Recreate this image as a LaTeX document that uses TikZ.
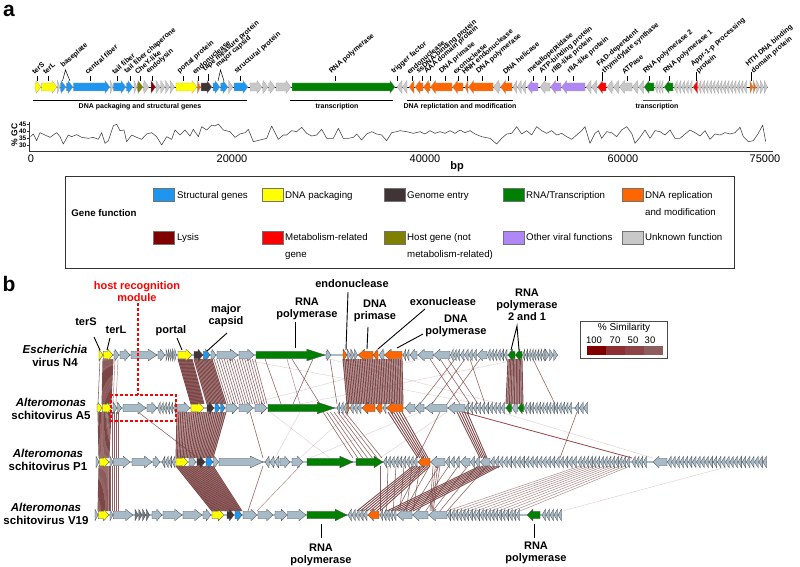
\documentclass[tikz,border=0pt]{standalone}
\usepackage{fontspec}
\setmainfont{Liberation Sans}
\definecolor{cstr}{RGB}{30,150,240}
\definecolor{cpack}{RGB}{255,255,0}
\definecolor{centry}{RGB}{65,52,52}
\definecolor{crna}{RGB}{0,128,0}
\definecolor{crep}{RGB}{255,102,0}
\definecolor{clys}{RGB}{128,0,0}
\definecolor{cmet}{RGB}{255,0,0}
\definecolor{chost}{RGB}{128,128,0}
\definecolor{cvir}{RGB}{176,136,245}
\definecolor{cunk}{RGB}{200,200,200}
\definecolor{cbg}{RGB}{166,186,200}
\definecolor{cdg}{RGB}{110,120,130}
\definecolor{clink}{RGB}{122,66,66}
\definecolor{sim1}{RGB}{128,0,0}
\definecolor{sim2}{RGB}{140,48,52}
\definecolor{sim3}{RGB}{140,68,70}
\definecolor{sim4}{RGB}{140,94,94}
\newcommand\geneF[3]{%
  \pgfmathsetmacro\gHL{min(#2-#1,\gHC+\gHK*(#2-#1))}%
  \filldraw[genestyle,fill=#3] (#1,{\gRY-\gBH}) -- ({#2-\gHL},{\gRY-\gBH}) -- ({#2-\gHL},{\gRY-\gHH}) -- (#2,\gRY) -- ({#2-\gHL},{\gRY+\gHH}) -- ({#2-\gHL},{\gRY+\gBH}) -- (#1,{\gRY+\gBH}) -- cycle;}
\newcommand\geneR[3]{%
  \pgfmathsetmacro\gHL{min(#2-#1,\gHC+\gHK*(#2-#1))}%
  \filldraw[genestyle,fill=#3] (#2,{\gRY-\gBH}) -- ({#1+\gHL},{\gRY-\gBH}) -- ({#1+\gHL},{\gRY-\gHH}) -- (#1,\gRY) -- ({#1+\gHL},{\gRY+\gHH}) -- ({#1+\gHL},{\gRY+\gBH}) -- (#2,{\gRY+\gBH}) -- cycle;}
\newcommand\runF[4]{%
  \pgfmathsetmacro\gRW{(#2-#1)/#3}%
  \foreach \k in {1,...,#3}{%
    \pgfmathsetmacro\gRA{#1+(\k-1)*\gRW}%
    \pgfmathsetmacro\gRB{#1+\k*\gRW-0.5}%
    \geneF{\gRA}{\gRB}{#4}}}
\newcommand\runR[4]{%
  \pgfmathsetmacro\gRW{(#2-#1)/#3}%
  \foreach \k in {1,...,#3}{%
    \pgfmathsetmacro\gRA{#1+(\k-1)*\gRW}%
    \pgfmathsetmacro\gRB{#1+\k*\gRW-0.5}%
    \geneR{\gRA}{\gRB}{#4}}}
\newcommand\bund[8]{%
  \foreach \k in {0,...,#7}{\draw[#8] ({#1+(#2-#1)*\k/#7},#3) -- ({#4+(#5-#4)*\k/#7},#6);}}
\newcommand\bundF[7]{%
  \fill[clink,opacity=0.45] (#1,#3)--(#2,#3)--(#5,#6)--(#4,#6)--cycle;
  \bund{#1}{#2}{#3}{#4}{#5}{#6}{#7}{lkd}}
\begin{document}
\begin{tikzpicture}[x=1pt,y=-1pt,
  genestyle/.style={draw=black!35,line width=0.25pt},
  atick/.style={line width=0.5pt,black},
  alab/.style={font=\fontsize{7.1}{8}\selectfont\bfseries,rotate=41,anchor=south west,inner sep=0.3pt},
  brk/.style={font=\fontsize{7}{8}\selectfont\bfseries,inner sep=0pt},
  leg/.style={font=\fontsize{9.7}{11}\selectfont,anchor=base west,inner sep=0pt},
  sw/.style={draw=black!55,line width=0.4pt},
  blab/.style={font=\fontsize{11}{12}\selectfont\bfseries,align=center,inner sep=0pt},
  rlab/.style={font=\fontsize{11.5}{13}\selectfont\bfseries,align=center,inner sep=0pt},
  lline/.style={line width=0.9pt,black},
  rowline/.style={draw=cbg,line width=1.6pt},
  lk/.style={draw=clink,line width=0.55pt,opacity=0.85},
  lkd/.style={draw=clink,line width=0.9pt,opacity=0.95},
  lkf/.style={draw=clink,line width=0.4pt,opacity=0.25},
  lkt/.style={draw=clink,line width=0.45pt,opacity=0.65},
  lkr/.style={draw=sim2,line width=0.8pt,opacity=0.9},
  hostred/.style={draw=red,line width=1.2pt,dash pattern=on 3pt off 2pt}]
\fill[white] (0,0) rectangle (800,567);
\useasboundingbox (0,0) rectangle (800,567);

% ---------------- panel a ----------------
\node[font=\fontsize{21}{21}\selectfont\bfseries,inner sep=0pt] (pa) at (9,11) {a};

\draw[line width=0.6pt] (35,87)--(768,87);
\def\gRY{87}\def\gBH{4}\def\gHH{6.5}\def\gHC{5}\def\gHK{0}
\geneF{35}{41}{cpack}
\geneF{41.3}{57}{cpack}
\geneF{57.3}{60}{cunk}
\geneF{60.3}{66}{cstr}
\geneF{66.3}{73}{cstr}
\geneF{73.3}{110}{cstr}
\geneF{110.3}{113}{cunk}
\geneF{113.3}{126}{cstr}
\geneF{126.3}{133}{cstr}
\geneF{134}{137}{cunk}
\geneF{137.3}{143}{chost}
\geneF{143.3}{149}{cunk}
\geneF{151}{155.5}{clys}
\runF{156}{175}{4}{cunk}
\geneF{176}{197}{cpack}
\geneF{197.3}{200.5}{crep}
\geneF{201}{212}{centry}
\geneF{213}{220}{cstr}
\geneF{220.5}{228}{cstr}
\geneF{228.5}{233}{cunk}
\geneF{234}{248}{cstr}
\geneF{250}{262}{cunk}
\geneF{262.5}{268}{cunk}
\geneF{268.5}{275}{cunk}
\geneF{276}{291}{cunk}
\geneF{292}{395}{crna}
\geneR{397}{402}{cunk}
\geneR{402.5}{407}{cunk}
\geneR{409}{414}{crep}
\geneR{415}{423}{crep}
\geneR{423.5}{430}{crep}
\geneR{430.5}{452}{crep}
\geneR{452.5}{463}{crep}
\geneR{465}{468}{crep}
\geneR{468.5}{493}{crep}
\geneR{493.5}{500}{cunk}
\geneR{500.5}{512}{crep}
\runR{513}{526}{3}{cunk}
\geneR{527}{538}{cvir}
\geneR{540}{550}{cunk}
\geneR{550.5}{561}{cvir}
\geneR{561.5}{585}{cvir}
\geneR{586}{591}{cunk}
\geneR{591.5}{597}{cunk}
\geneR{597.5}{606}{cmet}
\geneR{607}{613}{cunk}
\geneR{613.5}{619}{cunk}
\geneR{619.5}{632}{cunk}
\geneR{632.5}{638}{cunk}
\geneR{638.5}{643.5}{cunk}
\geneR{644}{654}{crna}
\runR{655}{663.5}{3}{cunk}
\geneR{664}{673}{crna}
\runR{674}{692.5}{5}{cunk}
\geneR{693}{697.5}{cmet}
\runR{698}{747}{14}{cunk}
\geneF{750}{753}{crep}
\geneF{753.3}{756}{crep}
\runF{756.5}{768}{3}{cunk}

% rotated labels
\foreach \x/\t in {37/terS, 48/terL, 90/central fiber, 117/tail fiber, 130/tail fiber chaperone, 140/CheY-like, 152/endolysin, 183/portal protein, 240/structural protein, 335/RNA polymerase, 397/trigger factor, 412/endonuclease, 422/ssDNA-binding protein, 430/AAA domain protein, 445/DNA primase, 458/exonuclease, 467/HNH endonuclease, 482/DNA polymerase, 508/DNA helicase, 533/metallopeptidase, 545/ATP-binding protein, 557/rIIB-like protein, 573/rIIA-like protein, 627/ATPase, 649/RNA polymerase 2, 669/RNA polymerase 1}
  {\draw[atick] (\x,81)--(\x,76); \node[alab] (la-\x) at (\x-2.5,75.5) {\t};}
\draw[atick] (198,81)--(198,76);
\node[alab] (la-endo1) at (195,75.5) {endonuclease};
\draw[atick] (208,81)--(208,74);
\node[alab] (la-tape) at (206,73) {tape measure protein};
\draw[atick] (62.5,81)--(65.5,70)--(70,81);
\node[alab] (la-base) at (64,69.5) {baseplate};
\draw[atick] (218,81)--(220.5,70)--(224,81);
\node[alab] (la-cap) at (219,69.5) {major capsid};
\draw[atick] (602,81)--(602,72);
\node[alab] (la-fad1) at (600,68.5) {FAD-dependent};
\node[alab] (la-fad2) at (605.5,75) {thymidylate synthase};
\draw[atick] (696,81)--(696,72);
\node[alab] (la-app1) at (694,68.5) {Appr-1-p processing};
\node[alab] (la-app2) at (699.5,75) {protein};
\draw[atick] (751,81)--(751,72);
\node[alab] (la-hth1) at (749,68.5) {HTH DNA binding};
\node[alab] (la-hth2) at (754.5,75) {domain protein};

% brackets
\draw[line width=0.6pt] (33,100.5)--(247,100.5);
\node[brk] (bk1) at (140,107) {DNA packaging and structural genes};
\draw[line width=0.6pt] (290,100.5)--(393,100.5);
\node[brk] (bk2) at (337,107) {transcription};
\draw[line width=0.6pt] (407,100.5)--(513,100.5);
\node[brk] (bk3) at (460,107) {DNA replictation and modification};
\draw[line width=0.6pt,black!70] (643,100.5)--(672,100.5);
\node[brk] (bk4) at (657,107) {transcription};

% GC plot
\draw[line width=0.6pt,black!80] (29,122)--(29,151)--(773,151);
\foreach \v/\yy in {45/124.5,40/131.5,35/138.5,30/145.5}
  {\draw[line width=0.5pt,black!80] (27,\yy)--(29,\yy);
   \node[font=\fontsize{6.5}{7}\selectfont\bfseries,anchor=east,inner sep=0.5pt] (gy\v) at (27,\yy) {\v};}
\node[font=\fontsize{8.5}{9}\selectfont\bfseries,rotate=90,inner sep=0pt] (gcl) at (14.5,135) {\% GC};
\foreach \v/\xx in {0/31,20000/232,40000/425,60000/623,75000/765}
  {\node[font=\fontsize{11}{12}\selectfont,inner sep=0pt] (gx\v) at (\xx,158.5) {\v};}
\node[font=\fontsize{11}{12}\selectfont\bfseries,inner sep=0pt] (bpl) at (457,166.5) {bp};
\begin{scope}[shift={(0,110)},x=0.33333pt,y=-0.33333pt]
\draw[black!75,line width=0.55pt,line join=round] (92,80)--(100,72)--(110,92)--(120,68)--(135,75)--(150,82)--(170,68)--(180,80)--(190,102)--(205,75)--(215,80)--(230,74)--(245,82)--(265,85)--(280,82)--(295,88)--(305,68)--(315,100)--(325,92)--(340,47)--(350,43)--(360,62)--(372,60)--(380,95)--(395,75)--(410,82)--(425,88)--(440,72)--(455,68)--(470,80)--(485,105)--(500,80)--(515,88)--(525,60)--(540,75)--(555,60)--(570,78)--(580,58)--(595,80)--(605,50)--(620,60)--(635,45)--(645,48)--(655,42)--(670,60)--(690,65)--(705,82)--(720,72)--(735,68)--(745,58)--(760,95)--(780,90)--(800,85)--(815,48)--(835,88)--(850,75)--(860,75)--(875,62)--(890,65)--(905,52)--(920,70)--(935,78)--(950,75)--(965,58)--(980,85)--(1000,85)--(1015,55)--(1030,85)--(1045,85)--(1060,82)--(1070,72)--(1085,90)--(1100,72)--(1115,65)--(1130,72)--(1145,75)--(1160,92)--(1175,68)--(1190,65)--(1200,62);
\end{scope}
\begin{scope}[shift={(400,110)},x=0.33333pt,y=-0.33333pt]
\draw[black!75,line width=0.55pt,line join=round] (0,62)--(20,65)--(40,70)--(60,65)--(75,72)--(90,62)--(105,70)--(120,65)--(135,70)--(150,62)--(165,70)--(180,60)--(195,68)--(210,62)--(225,72)--(245,80)--(270,85)--(290,102)--(305,85)--(320,72)--(335,70)--(350,50)--(365,72)--(380,62)--(395,75)--(410,50)--(425,62)--(440,70)--(455,62)--(470,75)--(485,70)--(500,80)--(515,88)--(530,75)--(545,62)--(555,50)--(570,100)--(585,70)--(595,62)--(605,85)--(620,65)--(635,68)--(650,80)--(665,60)--(680,50)--(695,70)--(705,100)--(720,82)--(735,60)--(750,85)--(765,62)--(780,65)--(795,75)--(810,60)--(825,85)--(840,85)--(855,72)--(870,60)--(885,68)--(900,78)--(915,62)--(930,88)--(945,72)--(960,75)--(975,68)--(990,72)--(1005,68)--(1020,52)--(1030,80)--(1045,95)--(1060,92)--(1075,70)--(1088,45)--(1097,95);
\end{scope}

% legend
\draw[black!80,line width=0.8pt] (65,176) rectangle (734,268);
\node[font=\fontsize{9.7}{11}\selectfont\bfseries,inner sep=0pt] (gf) at (104,213) {Gene function};
\foreach \c/\x in {cstr/153,cpack/262,centry/384,crna/503,crep/622}
  {\filldraw[sw,fill=\c] (\x,188.5) rectangle ++(21,12.5);}
\foreach \c/\x in {clys/153,cmet/262,chost/384,cvir/503,cunk/622}
  {\filldraw[sw,fill=\c] (\x,231.5) rectangle ++(21,12.5);}
\node[leg] (l1) at (177,198.5) {Structural genes};
\node[leg] (l2) at (285,198.5) {DNA packaging};
\node[leg] (l3) at (407,198.5) {Genome entry};
\node[leg] (l4) at (526,198.5) {RNA/Transcription};
\node[leg] (l5a) at (645,198.5) {DNA replication};
\node[leg] (l5b) at (645,215.5) {and modification};
\node[leg] (l6) at (177,240.5) {Lysis};
\node[leg] (l7a) at (285,240.5) {Metabolism-related};
\node[leg] (l7b) at (285,257.5) {gene};
\node[leg] (l8a) at (407,240.5) {Host gene (not};
\node[leg] (l8b) at (407,257.5) {metabolism-related)};
\node[leg] (l9) at (526,240.5) {Other viral functions};
\node[leg] (l10) at (645,240.5) {Unknown function};

% ---------------- panel b ----------------
\node[font=\fontsize{21}{21}\selectfont\bfseries,inner sep=0pt] (pb) at (9,284) {b};

% links N4 -> A5
\def\ta{359}\def\tb{404}
\draw[lk] (100,\ta)--(98,\tb);
\bundF{103}{113}{\ta}{102}{111}{\tb}{10}
\draw[lkt] (115,\ta)--(113,\tb); \draw[lkt] (118,\ta)--(116,\tb);
\bundF{178}{192}{\ta}{191}{204}{\tb}{14}
\bundF{194}{212}{\ta}{207}{226}{\tb}{14}
\bund{214}{255}{\ta}{228}{267}{\tb}{16}{lk}
\draw[lk] (265,\ta)--(281,\tb); \draw[lk] (292,\ta)--(320,\tb); \draw[lk] (313,\ta)--(293,\tb);
\draw[lkt] (287,\ta)--(300,\tb); \draw[lk] (330,\ta)--(337,\tb);
\bundF{343}{402}{\ta}{347}{403}{\tb}{34}
\draw[lk] (430,\ta)--(460,\tb); \draw[lk] (440,\ta)--(470,\tb); \draw[lk] (448,\ta)--(478,\tb);
\draw[lk] (455,\ta)--(420,\tb); \draw[lk] (465,\ta)--(432,\tb); \draw[lk] (470,\ta)--(485,\tb);
\draw[lk] (480,\ta)--(447,\tb);
\bundF{508}{522}{\ta}{506}{523}{\tb}{10}
\draw[lk] (533,\ta)--(555,\tb);
\draw[lkf] (240,\ta)--(480,\tb); \draw[lkf] (330,\ta)--(500,\tb); \draw[lkf] (420,\ta)--(250,\tb); \draw[lkf] (520,\ta)--(300,\tb);

% links A5 -> P1
\def\ta{412}\def\tb{458}
\bundF{98}{111}{\ta}{99}{109}{\tb}{10}
\bund{112}{118}{\ta}{112}{118}{\tb}{3}{lk}
\bundF{177}{226}{\ta}{176}{213}{\tb}{26}
\draw[lk] (138,\ta)--(198,\tb);
\draw[lk] (250,\ta)--(263,\tb); \draw[lkf] (300,\ta)--(275,\tb);
\bund{323}{345}{\ta}{353}{382}{\tb}{6}{lk}
\bund{388}{402}{\ta}{418}{428}{\tb}{5}{lkd}
\draw[lk] (440,\ta)--(417,\tb);
\bund{457}{467}{\ta}{480}{487}{\tb}{4}{lkd}
\draw[lkr] (463,\ta)--(632,\tb);
\draw[lkf] (500,\ta)--(653,\tb);
\draw[lk] (577,\ta)--(560,\tb);
\draw[lkf] (447,\ta)--(380,\tb); \draw[lkf] (420,\ta)--(310,\tb); \draw[lkf] (270,\ta)--(330,\tb); \draw[lkf] (350,\ta)--(300,\tb);

% links P1 -> V19
\def\ta{466}\def\tb{511}
\bundF{99}{109}{\ta}{98}{109}{\tb}{10}
\bund{110}{118}{\ta}{110}{118}{\tb}{4}{lk}
\bundF{176}{213}{\ta}{212}{242}{\tb}{24}
\draw[lk] (263,\ta)--(248,\tb); \draw[lkt] (300,\ta)--(257,\tb);
\bund{413}{430}{\ta}{357}{380}{\tb}{7}{lkd}
\bund{380}{420}{\ta}{380}{413}{\tb}{5}{lk}
\bund{420}{487}{\ta}{397}{447}{\tb}{7}{lk}
\bund{480}{500}{\ta}{387}{413}{\tb}{7}{lkd}
\bund{433}{440}{\ta}{430}{433}{\tb}{3}{lk}
\bund{580}{630}{\ta}{447}{520}{\tb}{10}{lkt}
\draw[lkf] (730,\ta)--(562,\tb);

% tracks
\tikzset{genestyle/.style={draw=black!70,line width=0.3pt}}
\def\gBH{3.7}\def\gHH{5.8}\def\gHC{3}\def\gHK{0.22}

% N4
\def\gRY{355}
\draw[rowline] (99,355)--(558,355);
\geneF{99}{103}{cpack}
\geneF{103.3}{113}{cpack}
\geneF{114}{119}{cbg}
\geneF{120}{130}{cbg}
\geneF{131}{157}{cbg}
\geneF{158}{165}{cbg}
\runF{166}{177}{5}{cbg}
\geneF{178}{192}{cpack}
\geneF{194}{203}{centry}
\geneF{203.3}{210}{cstr}
\geneF{211}{216}{cbg}
\geneF{217}{238}{cbg}
\geneF{239}{254}{cbg}
\geneF{256}{325}{crna}
\geneF{326}{331}{cbg}
\geneF{343}{347}{crep}
\runF{347.3}{358}{3}{cbg}
\geneR{358.3}{373}{crep}
\geneR{373.3}{378}{crep}
\geneR{379}{384}{cbg}
\geneR{384.3}{402}{crep}
\runR{403}{409.5}{2}{cbg}
\geneR{410}{417}{cbg}
\geneR{418}{433}{cbg}
\geneR{433.3}{450}{cbg}
\runR{450.5}{460}{3}{cbg}
\runR{460.3}{477}{4}{cbg}
\geneR{477.3}{487}{cbg}
\runR{487.3}{507.5}{6}{cbg}
\geneR{508}{515}{crna}
\geneR{515.5}{522}{crna}
\runR{522.5}{545}{8}{cbg}
\runF{545.3}{558}{3}{cbg}

% A5
\def\gRY{408}
\draw[rowline] (97,408)--(588,408);
\geneF{97}{102}{cpack}
\geneF{102.3}{112}{cpack}
\runF{113}{122}{2}{cbg}
\geneF{123}{146}{cbg}
\geneF{147}{157}{cbg}
\runR{157.5}{176.5}{6}{cbg}
\geneF{177}{190}{cbg}
\geneF{191}{204}{cpack}
\geneF{207}{214}{centry}
\geneF{215}{220}{cstr}
\geneF{220.5}{225}{cstr}
\geneF{226}{238}{cbg}
\geneF{239}{253}{cbg}
\geneF{255}{267}{cbg}
\geneF{268}{335}{crna}
\runR{337}{347}{3}{cbg}
\geneF{347.3}{349.5}{crep}
\runR{350}{361.5}{3}{cbg}
\geneR{362}{375}{crep}
\geneR{376}{382}{crep}
\geneR{383}{386}{cbg}
\geneR{386.3}{403}{crep}
\geneR{405}{415}{cbg}
\geneR{415.3}{424}{cbg}
\geneR{425}{447}{cbg}
\geneR{448}{465}{cbg}
\runR{465.3}{505}{10}{cbg}
\geneR{506}{511.5}{crna}
\geneR{512}{517.5}{cbg}
\geneR{518}{523.5}{crna}
\runR{524}{572}{14}{cbg}
\runR{575}{588}{3}{cbg}

% P1
\def\gRY{462}
\draw[rowline] (96,462)--(767,462);
\geneF{96}{99}{cbg}
\geneF{99.3}{109}{cpack}
\geneF{110}{113}{cbg}
\geneF{113.3}{130}{cbg}
\geneF{132}{152}{cbg}
\geneF{153}{160}{cbg}
\runR{162}{175.5}{4}{cbg}
\geneF{176}{188}{cpack}
\geneF{189}{196}{cbg}
\geneF{197}{205}{centry}
\geneF{206}{213}{cstr}
\geneF{213.5}{218.5}{cbg}
\geneF{219}{263}{cbg}
\runR{265}{279.5}{3}{cbg}
\geneF{280}{290}{cbg}
\geneF{292}{303}{cbg}
\geneF{307}{353}{crna}
\geneF{356}{383}{crna}
\runR{383.5}{417.5}{9}{cbg}
\geneR{418}{430}{crep}
\geneR{430.5}{445}{cbg}
\runR{445.5}{460}{3}{cbg}
\geneR{460.5}{470}{cbg}
\runR{470.5}{480}{2}{cbg}
\geneR{480.5}{490}{cbg}
\runR{490.5}{577}{20}{cbg}
\runR{578}{630}{14}{cbg}
\runR{632}{647}{4}{cbg}
\geneR{653}{667}{cbg}
\runR{667.5}{767}{24}{cbg}

% V19
\def\gRY{515}
\draw[rowline] (95,515)--(562,515);
\geneF{95}{98}{cbg}
\geneF{98.3}{109}{cpack}
\geneF{110}{113}{cbg}
\geneF{113.3}{133}{cbg}
\runF{135}{150}{4}{cdg}
\geneF{152}{162}{cbg}
\geneF{163}{182}{cbg}
\geneF{183}{202}{cbg}
\geneF{203}{211}{cbg}
\geneF{212}{224}{cpack}
\geneF{227}{234}{centry}
\geneF{235}{242}{cstr}
\geneF{243}{257}{cbg}
\geneF{258}{273}{cbg}
\geneF{275}{287}{cbg}
\geneF{287.5}{306}{cbg}
\geneF{307}{347}{crna}
\runR{348}{367.5}{5}{cbg}
\geneR{368}{379}{crep}
\runR{380}{396.5}{5}{cbg}
\geneR{397}{412}{cbg}
\geneR{412.5}{428}{cbg}
\geneR{428.5}{447}{cbg}
\runR{447.5}{520}{20}{cbg}
\geneR{527}{540}{crna}
\runR{542}{562}{5}{cbg}

% row labels
\node[rlab] (rN4) at (55,355.5) {\itshape Escherichia\\virus N4};
\node[rlab] (rA5) at (51,408.5) {\itshape Alteromonas\\schitovirus A5};
\node[rlab] (rP1) at (48,459.5) {\itshape Alteromonas\\schitovirus P1};
\node[rlab] (rV19) at (46,513.5) {\itshape Alteromonas\\schitovirus V19};

% host recognition module
\node[blab,text=red,font=\fontsize{11}{11.5}\selectfont\bfseries] (hrm) at (137,291.5) {host recognition\\module};
\draw[hostred] (138,303)--(138,395);
\draw[hostred] (111,395) rectangle (176,421);

% gene labels
\node[blab] (bterS) at (86,322) {terS};
\draw[lline] (94,337)--(100,350);
\node[blab] (bterL) at (116,330) {terL};
\draw[lline] (110,338)--(107,350);
\node[blab] (bportal) at (171,331) {portal};
\draw[lline] (177,338)--(182,350);
\node[blab] (bcap) at (226,316) {major\\capsid};
\draw[lline] (227,333)--(207,351);
\node[blab] (brnap) at (307,309) {RNA\\polymerase};
\draw[lline] (295,322)--(295,348);
\node[blab] (bendo) at (352,284) {endonuclease};
\draw[lline] (348,292)--(346,350);
\node[blab] (bprim) at (375,310.5) {DNA\\primase};
\draw[lline] (368,327)--(367,349);
\node[blab] (bexo) at (443,302) {exonuclease};
\draw[lline] (425,309)--(378,349);
\node[blab] (bpol) at (456,326) {DNA\\polymerase};
\draw[lline] (423,334)--(397,348);
\node[blab] (brnap21) at (527,305) {RNA\\polymerase\\2 and 1};
\draw[lline] (511,350)--(517,326)--(519,350);
\draw[lline] (321,524)--(321,538);
\node[blab] (brnapV) at (321,554.5) {RNA\\polymerase};
\draw[lline] (534,524)--(534,538);
\node[blab] (brnapV2) at (536,553) {RNA\\polymerase};

% similarity legend
\draw[black!70,line width=0.8pt] (580,321) rectangle (667,358);
\node[font=\fontsize{10}{11}\selectfont,inner sep=0pt] (simt) at (624,327.5) {\% Similarity};
\foreach \v/\xx in {100/594,70/615,50/633,30/650}
  {\node[font=\fontsize{9.5}{10}\selectfont,inner sep=0pt] (sv\v) at (\xx,340) {\v};}
\fill[sim1] (587,346) rectangle (606,355);
\fill[sim2] (606,346) rectangle (625,355);
\fill[sim3] (625,346) rectangle (644,355);
\fill[sim4] (644,346) rectangle (663,355);
\end{tikzpicture}
\end{document}
